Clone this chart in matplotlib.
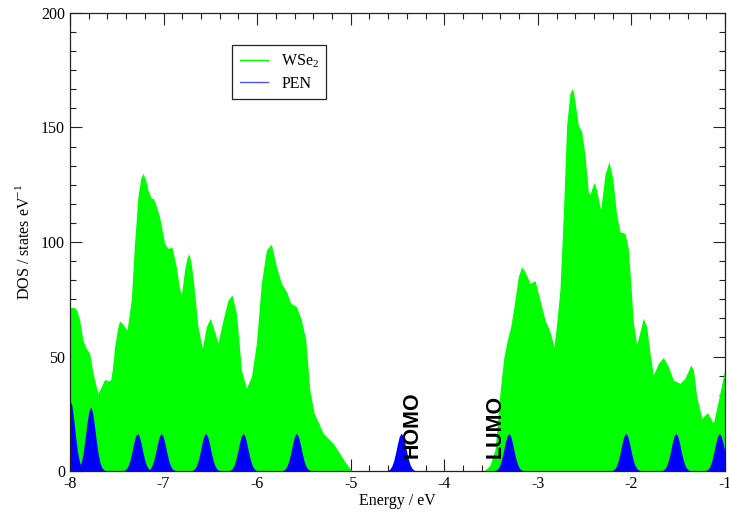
import matplotlib
matplotlib.use('Agg')
import matplotlib.pyplot as plt
from matplotlib.ticker import MultipleLocator, AutoMinorLocator

plt.rcParams['font.family'] = ['Liberation Serif', 'DejaVu Serif']
plt.rcParams['axes.unicode_minus'] = False
plt.rcParams['mathtext.fontset'] = 'custom'
plt.rcParams['mathtext.rm'] = 'Liberation Serif'

# WSe2 DOS (energy in eV, states/eV)
wse2_energy = [-8.000, -7.960, -7.930, -7.897, -7.861, -7.826, -7.790, -7.754, -7.720, -7.701,
               -7.665, -7.630, -7.594, -7.566, -7.545, -7.523, -7.490, -7.470, -7.434, -7.390,
               -7.345, -7.310, -7.274, -7.245, -7.220, -7.190, -7.167, -7.131, -7.110, -7.088,
               -7.042, -6.989, -6.953, -6.910, -6.864, -6.830, -6.810, -6.775, -6.750, -6.732,
               -6.710, -6.686, -6.632, -6.586, -6.543, -6.500, -6.461, -6.418, -6.365, -6.311,
               -6.268, -6.222, -6.195, -6.168, -6.115, -6.061, -6.008, -5.955, -5.901, -5.848,
               -5.794, -5.741, -5.687, -5.641, -5.580, -5.527, -5.480, -5.437, -5.391, -5.348,
               -5.295, -5.241, -5.188, -5.117, -5.063, -5.010, -4.985,
               -3.600, -3.565, -3.511, -3.458, -3.412, -3.387, -3.362, -3.326, -3.290, -3.255,
               -3.209, -3.173, -3.137, -3.084, -3.030, -2.977, -2.923, -2.870, -2.827, -2.791,
               -2.763, -2.728, -2.692, -2.657, -2.629, -2.603, -2.568, -2.532, -2.496, -2.461,
               -2.443, -2.400, -2.372, -2.329, -2.283, -2.240, -2.200, -2.158, -2.122, -2.069,
               -2.033, -2.008, -1.980, -1.944, -1.873, -1.837, -1.801, -1.766, -1.712, -1.659,
               -1.605, -1.552, -1.480, -1.427, -1.366, -1.337, -1.302, -1.248, -1.188, -1.124,
               -1.070, -1.000]
wse2_dos = [71.3, 71.5, 70.5, 66.0, 57.0, 53.6, 51.4, 42.7, 37.0, 33.9,
            36.8, 40.0, 39.4, 39.7, 45.0, 54.3, 62.5, 65.5, 64.0, 61.6,
            74.7, 99.4, 119.8, 127.5, 130.0, 127.0, 122.7, 119.0, 119.0, 117.0,
            111.0, 99.4, 97.2, 97.7, 89.2, 80.0, 76.9, 87.8, 93.0, 95.0,
            92.0, 84.9, 63.0, 53.6, 63.0, 66.7, 61.6, 56.0, 65.9, 74.7,
            76.9, 68.9, 57.0, 44.1, 36.1, 41.2, 55.8, 82.0, 96.5, 99.1,
            89.2, 82.0, 78.3, 73.2, 71.8, 66.0, 57.2, 35.4, 25.2, 21.5,
            16.5, 14.3, 12.1, 7.7, 4.1, 1.2, 0.0,
            0.0, 0.4, 2.6, 9.2, 31.0, 41.2, 49.9, 57.2, 63.0, 71.8,
            84.9, 89.2, 87.0, 82.0, 83.1, 74.7, 65.9, 60.8, 54.3, 67.4,
            79.8, 111.8, 151.0, 165.0, 167.1, 161.3, 151.1, 148.2, 138.0, 122.0,
            120.8, 126.0, 122.7, 114.0, 129.3, 135.1, 127.8, 111.8, 104.5, 103.8,
            97.2, 82.7, 65.2, 55.0, 66.7, 63.0, 51.4, 41.9, 47.0, 49.6,
            45.6, 39.7, 38.3, 40.5, 46.3, 44.1, 32.5, 23.0, 25.5, 20.8,
            31.0, 44.8]

# PEN peaks: centres and heights
pen_centres = [-8.00, -7.78, -7.28, -7.025, -6.55, -6.15, -5.58, -4.46, -3.31, -2.06, -1.525, -1.06]
pen_heights = [31.0, 28.0, 16.5, 16.5, 16.5, 16.5, 16.5, 16.5, 16.5, 16.5, 16.5, 16.5]
# shape of one PEN peak (offset in eV, fraction of height), read from the HOMO peak
peak_offsets = [-0.18, -0.16, -0.14, -0.12, -0.10, -0.08, -0.06, -0.04, -0.02, 0.0,
                0.02, 0.04, 0.06, 0.08, 0.10, 0.12, 0.14, 0.16, 0.18]
peak_shape = [0.0, 0.006, 0.02, 0.056, 0.135, 0.278, 0.487, 0.726, 0.923, 1.0,
              0.923, 0.726, 0.487, 0.278, 0.135, 0.056, 0.02, 0.006, 0.0]

fig = plt.figure(figsize=(7.29, 5.15), dpi=100)
ax = fig.add_axes([0.096, 0.0854, 0.8985, 0.8894])

ax.fill_between(wse2_energy, wse2_dos, 0, color='#00ff00', lw=0, zorder=2)
for c, h in zip(pen_centres, pen_heights):
    xs = [c + d for d in peak_offsets]
    ys = [h * s for s in peak_shape]
    ax.fill_between(xs, ys, 0, color='#0000ff', lw=0, zorder=3)

# legend handles
ax.plot([], [], color='#00ff00', lw=1, label='WSe$_2$')
ax.plot([], [], color='#5050ff', lw=1, label='PEN')

ax.text(-4.34, 5.5, 'HOMO', rotation=90, ha='center', va='bottom',
        family='Liberation Sans', fontweight='bold', fontsize=15.5, zorder=5)
ax.text(-3.453, 5.9, 'LUMO', rotation=90, ha='center', va='bottom',
        family='Liberation Sans', fontweight='bold', fontsize=15.5, zorder=5)

ax.set_xlim(-8, -1)
ax.set_ylim(0, 200)
ax.xaxis.set_major_locator(MultipleLocator(1))
ax.xaxis.set_minor_locator(AutoMinorLocator(5))
ax.yaxis.set_major_locator(MultipleLocator(50))
ax.yaxis.set_minor_locator(AutoMinorLocator(6))
ax.tick_params(which='both', direction='in', top=True, right=True, width=0.8,
               labelsize=11.5, color='#222222')
ax.tick_params(which='major', length=8.5)
ax.tick_params(which='minor', length=4.3)
for s in ax.spines.values():
    s.set_linewidth(0.9)
    s.set_color('#222222')
    s.set_zorder(6)

ax.set_xlabel('Energy / eV', fontsize=11.5, labelpad=1)
ax.set_ylabel('DOS / states eV$^{-1}$', fontsize=11.5, labelpad=6)

leg = ax.legend(loc='upper left', bbox_to_anchor=(0.248, 0.930), fontsize=11.5,
                frameon=True, fancybox=False, framealpha=1, edgecolor='#222222',
                handlelength=1.8, handletextpad=0.8, borderpad=0.45,
                labelspacing=0.35, borderaxespad=0)
leg.get_frame().set_linewidth(0.9)

fig.savefig('out.png', dpi=100)
